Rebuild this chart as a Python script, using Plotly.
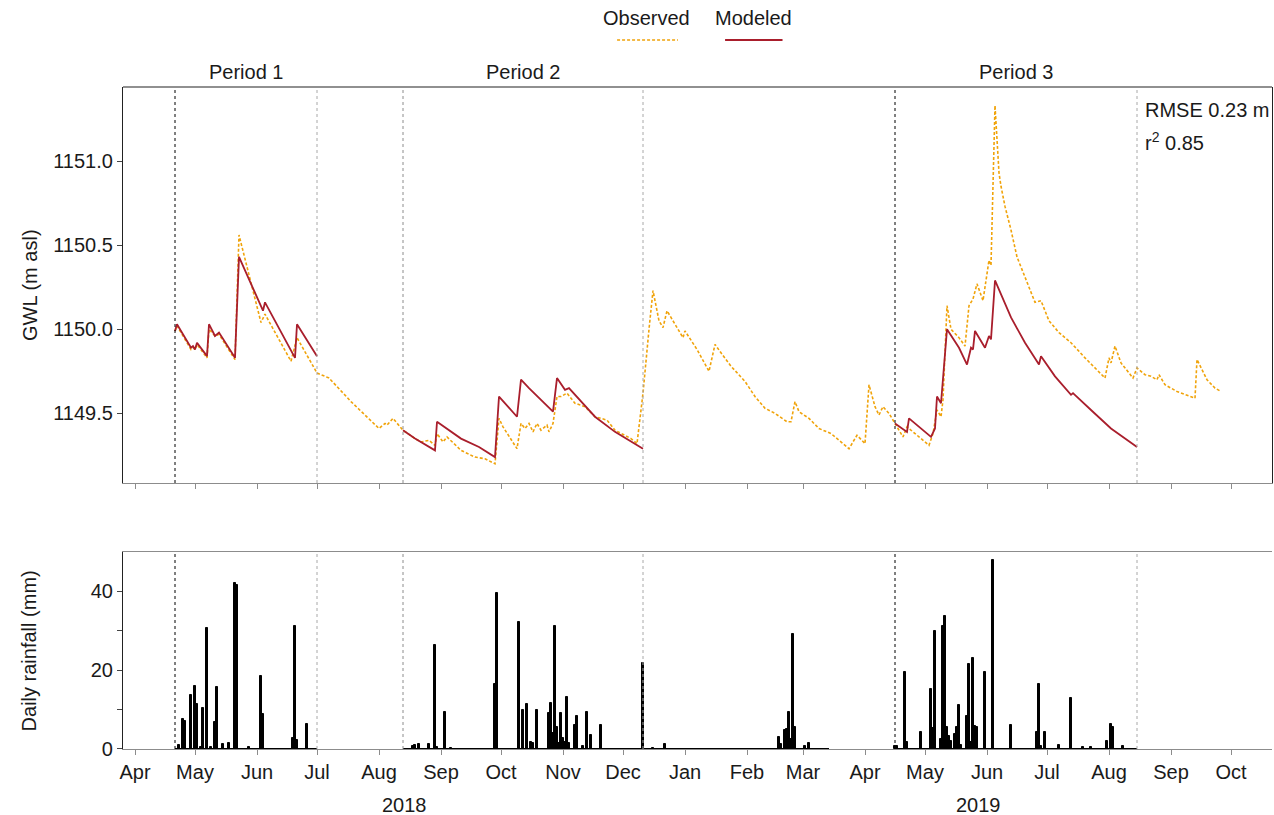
import plotly.graph_objects as go
import pandas as pd

# ---------------- data ----------------
obs_dates = [
    "2018-04-21", "2018-04-22", "2018-04-29", "2018-04-30", "2018-05-01", "2018-05-02",
    "2018-05-07", "2018-05-08", "2018-05-11", "2018-05-13", "2018-05-21", "2018-05-23",
    "2018-06-03", "2018-06-05", "2018-06-18", "2018-06-21", "2018-07-01", "2018-07-07",
    "2018-07-18", "2018-08-01", "2018-08-04", "2018-08-05", "2018-08-08", "2018-08-13",
    "2018-08-19", "2018-08-22", "2018-08-26", "2018-08-29", "2018-08-30", "2018-09-02",
    "2018-09-04", "2018-09-11", "2018-09-18", "2018-09-23", "2018-09-28", "2018-09-30",
    "2018-10-02", "2018-10-09", "2018-10-11", "2018-10-13", "2018-10-15", "2018-10-17",
    "2018-10-19", "2018-10-21", "2018-10-24", "2018-10-25", "2018-10-27", "2018-10-29",
    "2018-10-31", "2018-11-03", "2018-11-07", "2018-11-12", "2018-11-17", "2018-11-23",
    "2018-11-27", "2018-12-02", "2018-12-05", "2018-12-08", "2018-12-11", "2018-12-14",
    "2018-12-16", "2018-12-19", "2018-12-21", "2018-12-23", "2018-12-31", "2019-01-01",
    "2019-01-07", "2019-01-13", "2019-01-16", "2019-01-19", "2019-01-24", "2019-01-31",
    "2019-02-05", "2019-02-10", "2019-02-15", "2019-02-21", "2019-02-23", "2019-02-25",
    "2019-02-27", "2019-03-04", "2019-03-09", "2019-03-15", "2019-03-19", "2019-03-24",
    "2019-03-28", "2019-04-01", "2019-04-03", "2019-04-06", "2019-04-08", "2019-04-10",
    "2019-04-13", "2019-04-16", "2019-04-20", "2019-04-22", "2019-05-03", "2019-05-05",
    "2019-05-07", "2019-05-09", "2019-05-10", "2019-05-12", "2019-05-14", "2019-05-18",
    "2019-05-21", "2019-05-23", "2019-05-25", "2019-05-27", "2019-05-30", "2019-06-02",
    "2019-06-03", "2019-06-05", "2019-06-06", "2019-06-07", "2019-06-08", "2019-06-10",
    "2019-06-13", "2019-06-16", "2019-06-20", "2019-06-25", "2019-06-28", "2019-07-02",
    "2019-07-07", "2019-07-13", "2019-07-20", "2019-07-30", "2019-08-01", "2019-08-02",
    "2019-08-04", "2019-08-07", "2019-08-13", "2019-08-15", "2019-08-19", "2019-08-22",
    "2019-08-25", "2019-08-26", "2019-08-29", "2019-09-04", "2019-09-13", "2019-09-14",
    "2019-09-19", "2019-09-23", "2019-09-26",
]
obs_gwl = [
    1149.99, 1150.02, 1149.88, 1149.89, 1149.88, 1149.91,
    1149.83, 1150.00, 1149.96, 1149.97, 1149.82, 1150.56,
    1150.04, 1150.09, 1149.81, 1149.95, 1149.74, 1149.71,
    1149.57, 1149.41, 1149.44, 1149.43, 1149.47, 1149.40,
    1149.35, 1149.33, 1149.34, 1149.31, 1149.38, 1149.33,
    1149.36, 1149.28, 1149.24, 1149.23, 1149.20, 1149.47,
    1149.42, 1149.29, 1149.44, 1149.41, 1149.44, 1149.39,
    1149.44, 1149.40, 1149.43, 1149.39, 1149.44, 1149.60,
    1149.60, 1149.62, 1149.56, 1149.54, 1149.48, 1149.46,
    1149.40, 1149.37, 1149.35, 1149.32, 1149.62, 1150.00,
    1150.23, 1150.05, 1150.01, 1150.11, 1149.95, 1149.99,
    1149.88, 1149.75, 1149.91, 1149.86, 1149.78, 1149.69,
    1149.60, 1149.53, 1149.50, 1149.45, 1149.45, 1149.57,
    1149.51, 1149.47, 1149.41, 1149.38, 1149.34, 1149.29,
    1149.37, 1149.32, 1149.67, 1149.54, 1149.49, 1149.54,
    1149.50, 1149.44, 1149.36, 1149.42, 1149.31, 1149.38,
    1149.52, 1149.48, 1149.58, 1150.14, 1150.00, 1149.95,
    1149.90, 1150.14, 1150.18, 1150.27, 1150.17, 1150.41,
    1150.38, 1151.33, 1151.10, 1150.93, 1150.85, 1150.73,
    1150.59, 1150.43, 1150.31, 1150.16, 1150.17, 1150.05,
    1149.98, 1149.92, 1149.83, 1149.71, 1149.83, 1149.80,
    1149.90, 1149.80, 1149.71, 1149.77, 1149.73, 1149.72,
    1149.70, 1149.73, 1149.67, 1149.63, 1149.59, 1149.82,
    1149.70, 1149.65, 1149.63,
]

mod_p1_dates = ["2018-04-21", "2018-04-22", "2018-04-29", "2018-04-30", "2018-05-01", "2018-05-02",
                "2018-05-07", "2018-05-08", "2018-05-11", "2018-05-13", "2018-05-21", "2018-05-23",
                "2018-06-04", "2018-06-05", "2018-06-20", "2018-06-21", "2018-07-01"]
mod_p1_gwl = [1149.99, 1150.03, 1149.89, 1149.90, 1149.88, 1149.92,
              1149.84, 1150.03, 1149.96, 1149.98, 1149.83, 1150.43,
              1150.11, 1150.16, 1149.83, 1150.03, 1149.84]

mod_p2_dates = ["2018-08-13", "2018-08-19", "2018-08-29", "2018-08-30", "2018-09-11", "2018-09-20",
                "2018-09-28", "2018-09-30", "2018-10-09", "2018-10-11", "2018-10-15", "2018-10-27",
                "2018-10-29", "2018-11-02", "2018-11-04", "2018-11-17", "2018-11-27", "2018-12-11"]
mod_p2_gwl = [1149.40, 1149.35, 1149.28, 1149.45, 1149.35, 1149.30,
              1149.24, 1149.60, 1149.48, 1149.70, 1149.65, 1149.51,
              1149.71, 1149.64, 1149.65, 1149.48, 1149.39, 1149.29]

mod_p3_dates = ["2019-04-16", "2019-04-22", "2019-04-23", "2019-05-04", "2019-05-06", "2019-05-07",
                "2019-05-09", "2019-05-12", "2019-05-18", "2019-05-22", "2019-05-24", "2019-05-25",
                "2019-05-26", "2019-05-31", "2019-06-02", "2019-06-03", "2019-06-05", "2019-06-13",
                "2019-06-20", "2019-06-27", "2019-06-28", "2019-07-05", "2019-07-13", "2019-07-14",
                "2019-07-23", "2019-08-02", "2019-08-15"]
mod_p3_gwl = [1149.44, 1149.39, 1149.47, 1149.36, 1149.41, 1149.60,
              1149.56, 1150.00, 1149.89, 1149.79, 1149.89, 1149.88,
              1149.99, 1149.89, 1149.96, 1149.94, 1150.29, 1150.07,
              1149.92, 1149.79, 1149.84, 1149.72, 1149.61, 1149.62,
              1149.52, 1149.41, 1149.30]

rain_dates = [
    "2018-04-23", "2018-04-25", "2018-04-26", "2018-04-29", "2018-05-01", "2018-05-02",
    "2018-05-04", "2018-05-05", "2018-05-07", "2018-05-09", "2018-05-11", "2018-05-12",
    "2018-05-15", "2018-05-18", "2018-05-21", "2018-05-22", "2018-05-28", "2018-06-03",
    "2018-06-04", "2018-06-19", "2018-06-20", "2018-06-21", "2018-06-26",
    "2018-08-18", "2018-08-19", "2018-08-21", "2018-08-26", "2018-08-29", "2018-08-30",
    "2018-09-03", "2018-09-06", "2018-09-28", "2018-09-29", "2018-10-10", "2018-10-12",
    "2018-10-14", "2018-10-16", "2018-10-17", "2018-10-19", "2018-10-25", "2018-10-26",
    "2018-10-27", "2018-10-28", "2018-10-29", "2018-10-30", "2018-10-31", "2018-11-01",
    "2018-11-02", "2018-11-03", "2018-11-04", "2018-11-07", "2018-11-08", "2018-11-11",
    "2018-11-13", "2018-11-15", "2018-11-20", "2018-12-11", "2018-12-16", "2018-12-22",
    "2019-02-17", "2019-02-18", "2019-02-20", "2019-02-21", "2019-02-22", "2019-02-23",
    "2019-02-24", "2019-02-25", "2019-03-02", "2019-03-04",
    "2019-04-16", "2019-04-17", "2019-04-21", "2019-04-22", "2019-04-29", "2019-05-04",
    "2019-05-05", "2019-05-06", "2019-05-09", "2019-05-10", "2019-05-11", "2019-05-12",
    "2019-05-13", "2019-05-14", "2019-05-16", "2019-05-17", "2019-05-18", "2019-05-19",
    "2019-05-22", "2019-05-23", "2019-05-24", "2019-05-25", "2019-05-26", "2019-05-27",
    "2019-05-31", "2019-06-04", "2019-06-13", "2019-06-26", "2019-06-27", "2019-06-28",
    "2019-06-30", "2019-07-07", "2019-07-13", "2019-07-19", "2019-07-23", "2019-07-31",
    "2019-08-02", "2019-08-03", "2019-08-08",
]
rain_mm = [
    1.0, 7.5, 7.2, 13.7, 16.0, 11.5,
    0.5, 10.4, 30.6, 0.5, 6.8, 15.8,
    1.3, 1.5, 42.1, 41.7, 0.4, 18.5,
    8.9, 2.9, 31.3, 2.4, 6.4,
    0.8, 1.0, 1.2, 1.2, 26.5, 0.5,
    9.5, 0.3, 16.5, 39.6, 32.3, 9.8,
    11.4, 1.8, 1.5, 9.9, 9.1, 11.6,
    4.0, 31.2, 5.7, 1.5, 9.1, 2.8,
    1.7, 13.1, 1.5, 6.0, 8.4, 0.7,
    9.4, 3.6, 6.1, 21.9, 0.3, 1.2,
    3.0, 1.3, 4.7, 5.1, 9.4, 2.6,
    29.1, 5.7, 0.7, 1.4,
    0.8, 0.8, 19.6, 1.9, 4.3, 15.2,
    5.3, 30.0, 2.5, 31.2, 33.7, 5.7,
    3.2, 2.0, 3.9, 5.5, 11.2, 0.9,
    8.5, 21.6, 1.9, 23.0, 5.9, 5.5,
    19.5, 48.0, 6.1, 4.2, 16.5, 0.8,
    4.2, 0.9, 12.9, 0.5, 0.5, 2.1,
    6.3, 5.7, 0.7,
]
rain_record_start = ["2018-04-21", "2018-08-13", "2019-04-16"]
rain_record_end = ["2018-07-01", "2019-03-14", "2019-08-15"]

period_names = ["Period 1", "Period 2", "Period 3"]
period_start = ["2018-04-21", "2018-08-13", "2019-04-16"]
period_end = ["2018-07-01", "2018-12-11", "2019-08-15"]

gwl_ticks = [1149.5, 1150.0, 1150.5, 1151.0]
rain_ticks = [0, 20, 40]
rain_minor_ticks = [10, 30]
x_start, x_end = "2018-03-26", "2019-10-21 12:00"
year_labels = ["2018", "2019"]

# ---------------- style ----------------
OBS = "#F0A30A"
MOD = "#A91E2C"
FONT = "Liberation Sans, Arial, sans-serif"
FS = 20
TXT = "#1a1a1a"
GRAY = "#8c8c8c"
TOP_DOM = [0.4018, 1.0]
BOT_DOM = [0.0, 0.2976]

fig = go.Figure()
fig.add_trace(go.Scatter(x=obs_dates, y=obs_gwl, mode="lines", name="Observed",
                         line=dict(color=OBS, width=1.6, dash="3px,2px"),
                         xaxis="x", yaxis="y", showlegend=False))
for dts, vals in [(mod_p1_dates, mod_p1_gwl), (mod_p2_dates, mod_p2_gwl), (mod_p3_dates, mod_p3_gwl)]:
    fig.add_trace(go.Scatter(x=dts, y=vals, mode="lines", name="Modeled",
                             line=dict(color=MOD, width=1.8),
                             xaxis="x", yaxis="y", showlegend=False))

# rainfall record baseline
bx, by = [], []
for s, e in zip(rain_record_start, rain_record_end):
    bx += [s, e, None]
    by += [0, 0, None]
fig.add_trace(go.Scatter(x=bx, y=by, mode="lines", line=dict(color="black", width=2.2),
                         xaxis="x2", yaxis="y2", showlegend=False, hoverinfo="skip"))
fig.add_trace(go.Bar(x=rain_dates, y=rain_mm, width=86400000,
                     marker=dict(color="black", line=dict(color="black", width=1)),
                     xaxis="x2", yaxis="y2", showlegend=False, name="Daily rainfall"))

shapes = []
for i, (s, e) in enumerate(zip(period_start, period_end)):
    start_col = "black" if i != 1 else GRAY
    for yref in ["y domain", "y2 domain"]:
        xr = "x" if yref == "y domain" else "x2"
        shapes.append(dict(type="line", xref=xr, yref=yref, x0=s, x1=s, y0=0, y1=1,
                           line=dict(color=start_col, width=1, dash="dot")))
        shapes.append(dict(type="line", xref=xr, yref=yref, x0=e, x1=e, y0=0, y1=1,
                           line=dict(color="#a8a8a8", width=1, dash="dot")))
# top border of the upper panel
shapes.append(dict(type="line", xref="paper", yref="paper", x0=0, x1=1, y0=1, y1=1,
                   line=dict(color="#222", width=1.2)))
# legend samples
shapes.append(dict(type="line", xref="paper", yref="paper", x0=0.430, x1=0.483, y0=1.071, y1=1.071,
                   line=dict(color=OBS, width=1.6, dash="3px,2px")))
shapes.append(dict(type="line", xref="paper", yref="paper", x0=0.524, x1=0.574, y0=1.071, y1=1.071,
                   line=dict(color=MOD, width=1.8)))


def note(text, x, y, xref="paper", xanchor="center", angle=0):
    return dict(text=text, x=x, xref=xref, y=y, yref="paper", showarrow=False,
                xanchor=xanchor, yanchor="middle", textangle=angle,
                font=dict(size=FS, color=TXT))


annotations = []
for name, s, e in zip(period_names, period_start, period_end):
    mid = pd.Timestamp(s) + (pd.Timestamp(e) - pd.Timestamp(s)) / 2
    annotations.append(note(name, mid, 1.0227, xref="x"))
annotations.append(note("Observed", 0.456, 1.104))
annotations.append(note("Modeled", 0.549, 1.104))
annotations.append(note("RMSE 0.23 m", 0.8877, 0.9653, xanchor="left"))
annotations.append(note("r<sup>2</sup> 0.85", 0.8877, 0.918, xanchor="left"))
annotations.append(note("GWL (m asl)", -0.081, sum(TOP_DOM) / 2, angle=-90))
annotations.append(note("Daily rainfall (mm)", -0.081, sum(BOT_DOM) / 2, angle=-90))
x0t, x1t = pd.Timestamp(x_start), pd.Timestamp(x_end)
for yl in year_labels:
    a = max(x0t, pd.Timestamp(f"{yl}-01-01"))
    b = min(x1t, pd.Timestamp(f"{int(yl) + 1}-01-01"))
    annotations.append(note(yl, a + (b - a) / 2, -0.0846, xref="x2"))

xcommon = dict(type="date", range=[x_start, x_end], tick0="2018-04-01", dtick="M1",
               ticks="outside", ticklen=5, tickcolor=GRAY, showline=True, linecolor=GRAY,
               linewidth=1, showgrid=False, zeroline=False)

fig.update_layout(
    width=1274, height=815,
    margin=dict(l=123, r=2, t=87, b=66),
    paper_bgcolor="white", plot_bgcolor="white",
    font=dict(family=FONT, size=FS, color=TXT),
    showlegend=False, bargap=0,
    xaxis=dict(domain=[0, 1], anchor="y", showticklabels=False, **xcommon),
    xaxis2=dict(domain=[0, 1], anchor="y2", tickformat="%b", mirror=True,
                tickfont=dict(size=FS, color=TXT), **xcommon),
    yaxis=dict(domain=TOP_DOM, anchor="x", range=[1149.086, 1151.44],
               tickvals=gwl_ticks, ticktext=[f"{v:.1f}" for v in gwl_ticks],
               ticks="outside", ticklen=5, tickcolor="#444", showline=True, linecolor="#222",
               linewidth=1.2, mirror=True, showgrid=False, zeroline=False,
               tickfont=dict(size=FS, color=TXT)),
    yaxis2=dict(domain=BOT_DOM, anchor="x2", range=[0, 50], tickvals=rain_ticks,
                ticks="outside", ticklen=5, tickcolor="#444", showline=True, linecolor="#222",
                linewidth=1.2, showgrid=False, zeroline=False,
                minor=dict(tickvals=rain_minor_ticks, ticks="outside", ticklen=5, tickcolor="#444"),
                tickfont=dict(size=FS, color=TXT)),
    shapes=shapes,
    annotations=annotations,
)

fig.write_html("out.html")
